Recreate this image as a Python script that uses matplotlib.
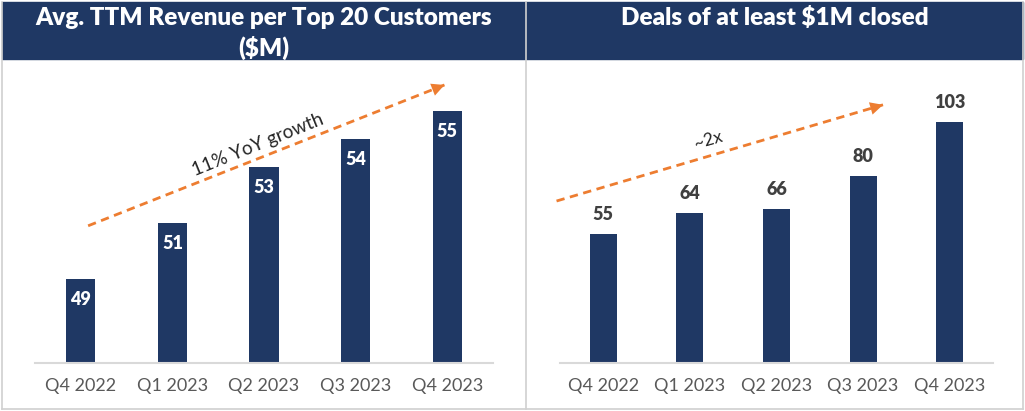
import matplotlib.pyplot as plt
from matplotlib.lines import Line2D
from matplotlib.patches import Rectangle

quarters = ['Q4 2022', 'Q1 2023', 'Q2 2023', 'Q3 2023', 'Q4 2023']
revenue = [49, 51, 53, 54, 55]
deals = [55, 64, 66, 80, 103]

navy = '#1F3864'
orange = '#ED7D31'
grey_txt = '#595959'
font = 'Lato'

W, H = 1025, 411
fig = plt.figure(figsize=(W / 100, H / 100), dpi=100)
fig.patch.set_facecolor('white')


def px(x, y, w, h):
    # pixel box (from top-left) -> figure fraction box
    return [x / W, 1 - (y + h) / H, w / W, h / H]


# header band + panel borders
fig.add_artist(Rectangle((2 / W, 1 - 59 / H), 1021 / W, 57 / H,
                         transform=fig.transFigure, color=navy, zorder=0))
border = '#D0D0D0'
for xs, ys in [([2, 2], [2, 409]), ([1023, 1023], [2, 409]),
               ([2, 1023], [409, 409]), ([526, 526], [2, 409])]:
    fig.add_artist(Line2D([x / W for x in xs], [1 - y / H for y in ys],
                          transform=fig.transFigure, color=border, lw=1.2))

fig.text(264 / W, 1 - 18 / H, 'Avg. TTM Revenue per Top 20 Customers',
         ha='center', va='center', color='white', fontsize=17.5,
         fontweight='heavy', family=font)
fig.text(264 / W, 1 - 48 / H, '($M)', ha='center', va='center',
         color='white', fontsize=17.5, fontweight='heavy', family=font)
fig.text(775 / W, 1 - 18 / H, 'Deals of at least $1M closed',
         ha='center', va='center', color='white', fontsize=17.5,
         fontweight='heavy', family=font)


def style(ax):
    for s in ['top', 'right', 'left']:
        ax.spines[s].set_visible(False)
    ax.spines['bottom'].set_color('#D9D9D9')
    ax.spines['bottom'].set_linewidth(1.5)
    ax.set_yticks([])
    ax.set_xlim(-0.5, 4.5)
    ax.set_xticks(range(len(quarters)))
    ax.set_xticklabels(quarters, family=font, fontsize=13, color=grey_txt)
    ax.tick_params(axis='x', length=0, pad=11)
    ax.patch.set_alpha(0)


def arrow(ax, start, end):
    ax.plot([start[0], end[0]], [start[1], end[1]], color=orange, lw=2,
            ls=(0, (3, 2)), clip_on=False)
    f = 0.93
    mid = (start[0] + f * (end[0] - start[0]), start[1] + f * (end[1] - start[1]))
    ax.annotate('', xy=end, xytext=mid, annotation_clip=False,
                arrowprops=dict(arrowstyle='-|>', color=orange, lw=0,
                                mutation_scale=23, shrinkA=0, shrinkB=0))


# left panel
ax1 = fig.add_axes(px(35, 69, 458, 294))
ax1.bar(range(len(revenue)), revenue, width=0.32, color=navy)
ax1.set_ylim(46, 56.5)
style(ax1)
for i, v in enumerate(revenue):
    ax1.annotate(str(v), (i, v), xytext=(0, -15), textcoords='offset points',
                 ha='center', va='center', color='white', fontsize=13,
                 fontweight='heavy', family=font)
arrow(ax1, (0.08, 50.9), (3.97, 55.93))
ax1.text(1.93, 53.8, '11% YoY growth', rotation=22, ha='center', va='center',
         fontsize=13.5, color='#262626', family=font, rotation_mode='anchor')

# right panel
ax2 = fig.add_axes(px(560, 69, 433, 294))
ax2.bar(range(len(deals)), deals, width=0.31, color=navy)
ax2.set_ylim(0, 125.6)
style(ax2)
for i, v in enumerate(deals):
    ax2.annotate(str(v), (i, v), xytext=(0, 14), textcoords='offset points',
                 ha='center', va='center', color='#404040', fontsize=13,
                 fontweight='heavy', family=font)
arrow(ax2, (-0.54, 69.2), (3.23, 110.3))
ax2.text(1.21, 95.3, '~2x', rotation=16, ha='center', va='center',
         fontsize=12.5, color='#262626', family=font, rotation_mode='anchor')

fig.savefig('out.png', dpi=100)
